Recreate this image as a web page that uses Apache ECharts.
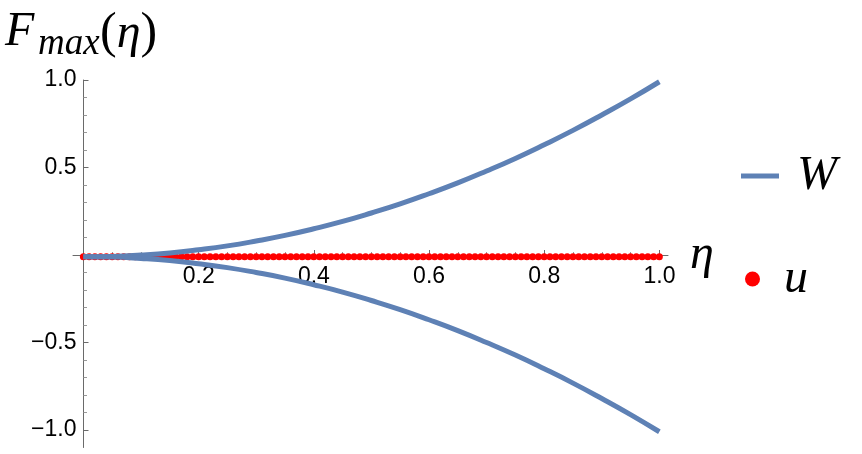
<!DOCTYPE html>
<html>
<head>
<meta charset="utf-8">
<script src="https://cdn.jsdelivr.net/npm/echarts@6/dist/echarts.min.js"></script>
<style>
  html, body { margin: 0; padding: 0; background: #fff; }
  #main { width: 862px; height: 454px; }
</style>
</head>
<body>
<div id="main"></div>
<script>
// W : the two branches, every 0.05 in eta
var etaW = [0, 0.05, 0.1, 0.15, 0.2, 0.25, 0.3, 0.35, 0.4, 0.45, 0.5,
            0.55, 0.6, 0.65, 0.7, 0.75, 0.8, 0.85, 0.9, 0.95, 1.0];
var wUpper = [-0.01, -0.008, 0.0, 0.012, 0.03, 0.052, 0.08, 0.112, 0.15, 0.192, 0.24,
              0.292, 0.35, 0.412, 0.48, 0.552, 0.63, 0.712, 0.80, 0.892, 0.99];
var wLower = [-0.01, -0.012, -0.02, -0.032, -0.05, -0.072, -0.10, -0.132, -0.17, -0.212, -0.26,
              -0.312, -0.37, -0.432, -0.50, -0.572, -0.65, -0.732, -0.82, -0.912, -1.01];

// u : red dots every 0.01, all sitting just under the axis
var etaU = [0, 0.01, 0.02, 0.03, 0.04, 0.05, 0.06, 0.07, 0.08, 0.09,
            0.1, 0.11, 0.12, 0.13, 0.14, 0.15, 0.16, 0.17, 0.18, 0.19,
            0.2, 0.21, 0.22, 0.23, 0.24, 0.25, 0.26, 0.27, 0.28, 0.29,
            0.3, 0.31, 0.32, 0.33, 0.34, 0.35, 0.36, 0.37, 0.38, 0.39,
            0.4, 0.41, 0.42, 0.43, 0.44, 0.45, 0.46, 0.47, 0.48, 0.49,
            0.5, 0.51, 0.52, 0.53, 0.54, 0.55, 0.56, 0.57, 0.58, 0.59,
            0.6, 0.61, 0.62, 0.63, 0.64, 0.65, 0.66, 0.67, 0.68, 0.69,
            0.7, 0.71, 0.72, 0.73, 0.74, 0.75, 0.76, 0.77, 0.78, 0.79,
            0.8, 0.81, 0.82, 0.83, 0.84, 0.85, 0.86, 0.87, 0.88, 0.89,
            0.9, 0.91, 0.92, 0.93, 0.94, 0.95, 0.96, 0.97, 0.98, 0.99, 1.0];
var uLevel = -0.01;

// tick labels
var xTickVals = [0.2, 0.4, 0.6, 0.8, 1.0];
var xTickText = ['0.2', '0.4', '0.6', '0.8', '1.0'];
var yTickVals = [1.0, 0.5, -0.5, -1.0];
var yTickText = ['1.0', '0.5', '\u22120.5', '\u22121.0'];

function pickLabel(vals, texts) {
  return function (v) {
    for (var i = 0; i < vals.length; i++) {
      if (Math.abs(vals[i] - v) < 1e-6) return texts[i];
    }
    return '';
  };
}

var BLUE = '#5e81b5';
var AXIS = '#6a6a6a';
var serifIt = { fontFamily: 'Liberation Serif', fontStyle: 'italic', fontWeight: 'normal', color: '#000' };
var labelFont = { fontSize: 23, fontFamily: 'Liberation Sans', color: '#000' };

var chart = echarts.init(document.getElementById('main'));

var option = {
  animation: false,
  backgroundColor: '#fff',
  title: [
    { text: 'F', left: 5, top: 8, padding: 0,
      textStyle: Object.assign({ fontSize: 48 }, serifIt) },
    { text: 'max', left: 38, top: 26, padding: 0,
      textStyle: Object.assign({ fontSize: 37 }, serifIt) },
    { text: '{p|(}{e|η}{p|)}', left: 100, top: 9, padding: 0,
      textStyle: {
        fontWeight: 'normal',
        rich: {
          p: { fontFamily: 'Liberation Serif', fontWeight: 'normal', fontSize: 50, color: '#000' },
          e: { fontFamily: 'Liberation Serif', fontStyle: 'italic', fontWeight: 'normal', fontSize: 48, color: '#000' }
        }
      } }
  ],
  legend: [
    { data: [{ name: 'W', icon: 'rect' }], left: 741, top: 152, padding: 0,
      itemWidth: 38, itemHeight: 5, selectedMode: false,
      textStyle: Object.assign({ fontSize: 48, padding: [0, 0, 0, 13] }, serifIt) },
    { data: [{ name: 'u', icon: 'circle' }], left: 745, top: 255, padding: 0,
      itemWidth: 15, itemHeight: 15, selectedMode: false,
      textStyle: Object.assign({ fontSize: 48, padding: [0, 0, 0, 19] }, serifIt) }
  ],
  grid: [
    // data grid, x from -0.018 to 1.015, y from -1.1 to 1.0
    { left: 73, top: 80, width: 595, height: 367.5 },
    // x ticks: upper half only, its bottom edge is y = 0
    { left: 83.5, top: 80, width: 576, height: 175 },
    // y ticks: -1 .. 1
    { left: 83.5, top: 80, width: 576, height: 350 }
  ],
  xAxis: [
    { gridIndex: 0, type: 'value', min: -0.018, max: 1.015,
      axisLine: { onZero: true, lineStyle: { color: AXIS, width: 1 } },
      axisTick: { show: false }, axisLabel: { show: false }, splitLine: { show: false },
      name: 'η', nameLocation: 'end', nameGap: 22,
      nameTextStyle: Object.assign({ fontSize: 48 }, serifIt) },
    { gridIndex: 1, type: 'value', position: 'bottom', min: 0, max: 1, interval: 0.2,
      axisLine: { show: false, onZero: false },
      axisTick: { inside: true, length: 5, lineStyle: { color: AXIS } },
      minorTick: { show: true, splitNumber: 4, length: 3, lineStyle: { color: '#999' } },
      axisLabel: Object.assign({ margin: 10, formatter: pickLabel(xTickVals, xTickText) }, labelFont),
      splitLine: { show: false }, minorSplitLine: { show: false } },
    { gridIndex: 2, type: 'value', min: 0, max: 1, show: false }
  ],
  yAxis: [
    { gridIndex: 0, type: 'value', min: -1.1, max: 1.0,
      axisLine: { onZero: true, lineStyle: { color: AXIS, width: 1 } },
      axisTick: { show: false }, axisLabel: { show: false }, splitLine: { show: false } },
    { gridIndex: 1, type: 'value', min: 0, max: 1, show: false },
    { gridIndex: 2, type: 'value', position: 'left', min: -1, max: 1, interval: 0.5,
      axisLine: { show: false, onZero: false },
      axisTick: { inside: true, length: 5, lineStyle: { color: AXIS } },
      minorTick: { show: true, splitNumber: 5, length: 3.5, lineStyle: { color: '#999' } },
      axisLabel: Object.assign({ margin: 7, formatter: pickLabel(yTickVals, yTickText) }, labelFont),
      splitLine: { show: false }, minorSplitLine: { show: false } }
  ],
  series: [
    { name: 'u', type: 'scatter', xAxisIndex: 0, yAxisIndex: 0, z: 2,
      symbol: 'circle', symbolSize: 7,
      itemStyle: { color: '#ff0000', opacity: 1 },
      data: etaU.map(function (e) { return [e, uLevel]; }) },
    { name: 'W', type: 'line', xAxisIndex: 0, yAxisIndex: 0, z: 3,
      smooth: true, symbol: 'none', showSymbol: false,
      lineStyle: { color: BLUE, width: 5 }, itemStyle: { color: BLUE },
      data: etaW.map(function (e, i) { return [e, wUpper[i]]; }) },
    { name: 'W', type: 'line', xAxisIndex: 0, yAxisIndex: 0, z: 3,
      smooth: true, symbol: 'none', showSymbol: false,
      lineStyle: { color: BLUE, width: 5 }, itemStyle: { color: BLUE },
      data: etaW.map(function (e, i) { return [e, wLower[i]]; }) }
  ]
};

chart.setOption(option);
</script>
</body>
</html>
